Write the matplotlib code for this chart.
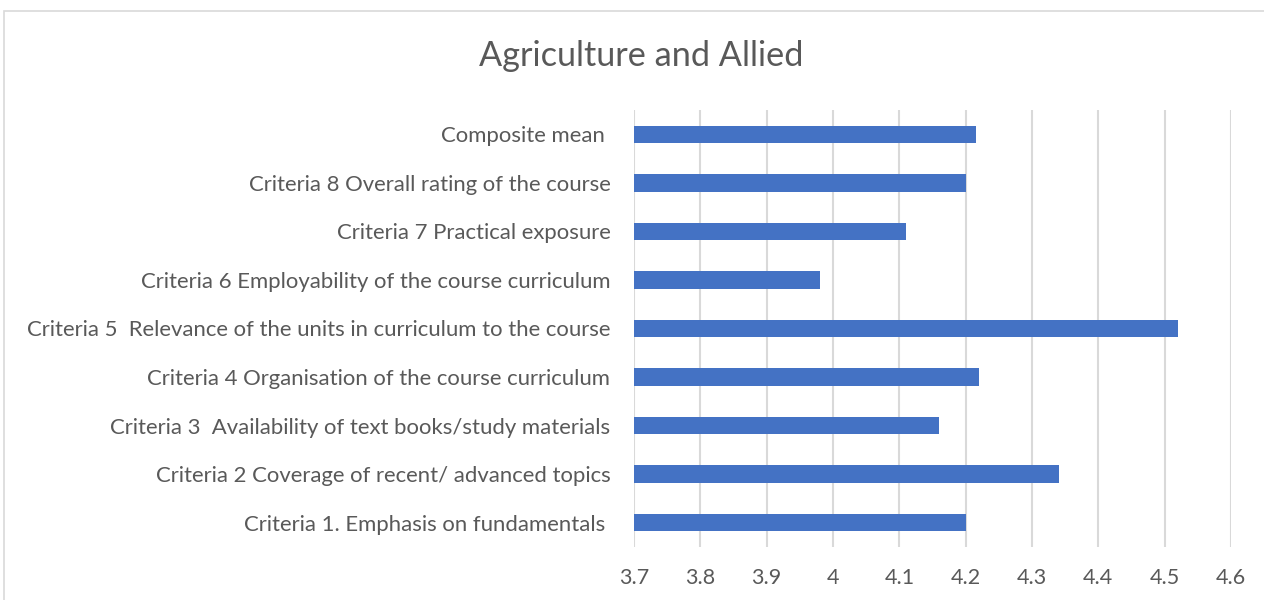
import matplotlib.pyplot as plt
from matplotlib.patches import Rectangle

# data
categories = [
    "Criteria 1. Emphasis on fundamentals ",
    "Criteria 2 Coverage of recent/ advanced topics",
    "Criteria 3  Availability of text books/study materials",
    "Criteria 4 Organisation of the course curriculum",
    "Criteria 5  Relevance of the units in curriculum to the course",
    "Criteria 6 Employability of the course curriculum",
    "Criteria 7 Practical exposure",
    "Criteria 8 Overall rating of the course",
    "Composite mean ",
]
values = [4.20, 4.34, 4.16, 4.22, 4.52, 3.98, 4.11, 4.20, 4.215]
xticks = [3.7, 3.8, 3.9, 4.0, 4.1, 4.2, 4.3, 4.4, 4.5, 4.6]
xticklabels = ["3.7", "3.8", "3.9", "4", "4.1", "4.2", "4.3", "4.4", "4.5", "4.6"]

plt.rcParams['font.family'] = ['Lato', 'DejaVu Sans']
text_col = "#595959"

fig = plt.figure(figsize=(12.64, 6), dpi=100)
ax = fig.add_axes([634/1264, 1 - 547/600, (1231 - 634)/1264, (547 - 110)/600])

# chart border (light grey frame, cropped at right/bottom)
fig.patches.append(Rectangle((4/1264, -0.05), 1.2, 1 - 11/600 + 0.05,
                             transform=fig.transFigure, fill=False,
                             edgecolor="#d9d9d9", linewidth=1.2))

ax.barh(range(len(categories)), [v - 3.7 for v in values], left=3.7,
        height=0.36, color="#4472C4", zorder=3)

ax.set_xlim(3.7, 4.6)
ax.set_ylim(-0.5, len(categories) - 0.5)
ax.set_xticks(xticks)
ax.set_xticklabels(xticklabels)
ax.set_yticks(range(len(categories)))
ax.set_yticklabels(categories)

ax.grid(axis="x", color="#d9d9d9", linewidth=1.5, zorder=0)
for s in ax.spines.values():
    s.set_visible(False)
ax.tick_params(axis="both", length=0, colors=text_col)
ax.tick_params(axis="y", pad=17, labelsize=15.9)
ax.tick_params(axis="x", pad=15, labelsize=15.5)

fig.text(641/1264, 1 - 56/600, "Agriculture and Allied", ha="center", va="center",
         fontsize=24.7, color=text_col)

fig.savefig("out.png", dpi=100)
